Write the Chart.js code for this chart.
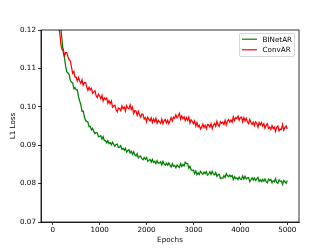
<!DOCTYPE html>
<html>
<head>
<meta charset="utf-8">
<script src="https://cdn.jsdelivr.net/npm/chart.js"></script>
<style>
  html, body { margin: 0; padding: 0; background: #fff; }
  #wrap { width: 332px; height: 249px; }
</style>
</head>
<body>
<div id="wrap"><canvas id="c" width="332" height="249"></canvas></div>
<script>
// epochs, sampled every 25
const epochs = [
  0, 25, 50, 75, 100, 125, 150, 175, 200, 225,
  250, 275, 300, 325, 350, 375, 400, 425, 450, 475,
  500, 525, 550, 575, 600, 625, 650, 675, 700, 725,
  750, 775, 800, 825, 850, 875, 900, 925, 950, 975,
  1000, 1025, 1050, 1075, 1100, 1125, 1150, 1175, 1200, 1225,
  1250, 1275, 1300, 1325, 1350, 1375, 1400, 1425, 1450, 1475,
  1500, 1525, 1550, 1575, 1600, 1625, 1650, 1675, 1700, 1725,
  1750, 1775, 1800, 1825, 1850, 1875, 1900, 1925, 1950, 1975,
  2000, 2025, 2050, 2075, 2100, 2125, 2150, 2175, 2200, 2225,
  2250, 2275, 2300, 2325, 2350, 2375, 2400, 2425, 2450, 2475,
  2500, 2525, 2550, 2575, 2600, 2625, 2650, 2675, 2700, 2725,
  2750, 2775, 2800, 2825, 2850, 2875, 2900, 2925, 2950, 2975,
  3000, 3025, 3050, 3075, 3100, 3125, 3150, 3175, 3200, 3225,
  3250, 3275, 3300, 3325, 3350, 3375, 3400, 3425, 3450, 3475,
  3500, 3525, 3550, 3575, 3600, 3625, 3650, 3675, 3700, 3725,
  3750, 3775, 3800, 3825, 3850, 3875, 3900, 3925, 3950, 3975,
  4000, 4025, 4050, 4075, 4100, 4125, 4150, 4175, 4200, 4225,
  4250, 4275, 4300, 4325, 4350, 4375, 4400, 4425, 4450, 4475,
  4500, 4525, 4550, 4575, 4600, 4625, 4650, 4675, 4700, 4725,
  4750, 4775, 4800, 4825, 4850, 4875, 4900, 4925, 4950, 4975,
  5000
];

const binetar = [
  0.1700, 0.1596, 0.1502, 0.1416, 0.1354, 0.1289, 0.1235, 0.1203, 0.1171, 0.1141,
  0.1128, 0.1106, 0.1091, 0.1088, 0.1084, 0.1069, 0.1064, 0.1062, 0.1047, 0.1050,
  0.1044, 0.1044, 0.1026, 0.1015, 0.1005, 0.0988, 0.0989, 0.0974, 0.0964, 0.0962,
  0.0960, 0.0948, 0.0949, 0.0940, 0.0944, 0.0936, 0.0930, 0.0933, 0.0932, 0.0922,
  0.0923, 0.0925, 0.0916, 0.0922, 0.0912, 0.0912, 0.0906, 0.0912, 0.0904, 0.0907,
  0.0901, 0.0908, 0.0902, 0.0897, 0.0902, 0.0903, 0.0894, 0.0895, 0.0899, 0.0889,
  0.0892, 0.0887, 0.0892, 0.0882, 0.0886, 0.0888, 0.0880, 0.0884, 0.0876, 0.0883,
  0.0875, 0.0872, 0.0878, 0.0867, 0.0871, 0.0872, 0.0865, 0.0862, 0.0868, 0.0863,
  0.0868, 0.0858, 0.0861, 0.0863, 0.0856, 0.0863, 0.0855, 0.0858, 0.0852, 0.0860,
  0.0853, 0.0854, 0.0857, 0.0849, 0.0858, 0.0851, 0.0848, 0.0853, 0.0848, 0.0854,
  0.0848, 0.0843, 0.0852, 0.0845, 0.0847, 0.0841, 0.0848, 0.0845, 0.0842, 0.0852,
  0.0845, 0.0850, 0.0846, 0.0856, 0.0852, 0.0852, 0.0840, 0.0845, 0.0836, 0.0834,
  0.0835, 0.0826, 0.0833, 0.0823, 0.0828, 0.0824, 0.0832, 0.0828, 0.0824, 0.0830,
  0.0826, 0.0831, 0.0822, 0.0825, 0.0831, 0.0824, 0.0832, 0.0825, 0.0823, 0.0829,
  0.0819, 0.0823, 0.0824, 0.0813, 0.0815, 0.0814, 0.0821, 0.0816, 0.0826, 0.0821,
  0.0818, 0.0822, 0.0818, 0.0821, 0.0811, 0.0818, 0.0813, 0.0815, 0.0810, 0.0817,
  0.0812, 0.0811, 0.0820, 0.0812, 0.0819, 0.0812, 0.0815, 0.0816, 0.0805, 0.0810,
  0.0815, 0.0809, 0.0815, 0.0808, 0.0812, 0.0816, 0.0806, 0.0810, 0.0805, 0.0811,
  0.0806, 0.0812, 0.0805, 0.0802, 0.0812, 0.0808, 0.0811, 0.0802, 0.0807, 0.0805,
  0.0813, 0.0803, 0.0801, 0.0810, 0.0806, 0.0807, 0.0798, 0.0808, 0.0805, 0.0801,
  0.0808
];

const convar = [
  0.1500, 0.1425, 0.1347, 0.1296, 0.1234, 0.1212, 0.1192, 0.1161, 0.1149, 0.1150,
  0.1133, 0.1141, 0.1141, 0.1130, 0.1123, 0.1119, 0.1103, 0.1087, 0.1092, 0.1077,
  0.1077, 0.1067, 0.1076, 0.1067, 0.1061, 0.1070, 0.1056, 0.1063, 0.1063, 0.1052,
  0.1043, 0.1051, 0.1044, 0.1048, 0.1035, 0.1039, 0.1042, 0.1029, 0.1024, 0.1033,
  0.1028, 0.1021, 0.1030, 0.1015, 0.1023, 0.1019, 0.1023, 0.1009, 0.1016, 0.1008,
  0.1015, 0.0999, 0.1002, 0.1004, 0.0993, 0.0987, 0.0997, 0.0995, 0.0990, 0.1002,
  0.0995, 0.0999, 0.0989, 0.1003, 0.0997, 0.0995, 0.1005, 0.0993, 0.0999, 0.0983,
  0.0990, 0.0989, 0.0978, 0.0988, 0.0979, 0.0973, 0.0981, 0.0980, 0.0968, 0.0972,
  0.0961, 0.0973, 0.0967, 0.0963, 0.0971, 0.0959, 0.0968, 0.0961, 0.0970, 0.0957,
  0.0965, 0.0961, 0.0957, 0.0968, 0.0956, 0.0964, 0.0967, 0.0958, 0.0965, 0.0956,
  0.0964, 0.0972, 0.0963, 0.0973, 0.0970, 0.0979, 0.0971, 0.0976, 0.0983, 0.0968,
  0.0976, 0.0969, 0.0974, 0.0964, 0.0972, 0.0965, 0.0973, 0.0958, 0.0966, 0.0962,
  0.0956, 0.0963, 0.0950, 0.0959, 0.0948, 0.0952, 0.0942, 0.0947, 0.0955, 0.0946,
  0.0952, 0.0943, 0.0954, 0.0953, 0.0947, 0.0956, 0.0943, 0.0952, 0.0957, 0.0949,
  0.0962, 0.0953, 0.0949, 0.0961, 0.0957, 0.0960, 0.0954, 0.0965, 0.0953, 0.0963,
  0.0967, 0.0960, 0.0966, 0.0960, 0.0974, 0.0964, 0.0972, 0.0969, 0.0976, 0.0965,
  0.0972, 0.0973, 0.0961, 0.0972, 0.0963, 0.0970, 0.0961, 0.0956, 0.0967, 0.0960,
  0.0954, 0.0960, 0.0951, 0.0961, 0.0957, 0.0947, 0.0959, 0.0953, 0.0959, 0.0950,
  0.0956, 0.0944, 0.0952, 0.0956, 0.0944, 0.0947, 0.0941, 0.0951, 0.0943, 0.0947,
  0.0936, 0.0947, 0.0950, 0.0937, 0.0942, 0.0941, 0.0954, 0.0939, 0.0946, 0.0950,
  0.0942
];

const xTicks = [0, 1000, 2000, 3000, 4000, 5000];
const yTicks = [0.07, 0.08, 0.09, 0.10, 0.11, 0.12];

const FONT = { family: 'DejaVu Sans', size: 7.2 };

function toPoints(ys) {
  return epochs.map((e, i) => ({ x: e, y: ys[i] }));
}

// frame on all four sides + legend box in the upper right
const framePlugin = {
  id: 'frame',
  afterDraw(chart) {
    const { ctx, chartArea: a } = chart;
    ctx.save();
    ctx.strokeStyle = '#000';
    ctx.lineWidth = 0.8;
    ctx.strokeRect(a.left, a.top, a.right - a.left, a.bottom - a.top);

    // legend
    const bx = 239.5, by = 33.5, bw = 55, bh = 23;
    ctx.fillStyle = 'rgba(255,255,255,0.8)';
    ctx.strokeStyle = '#cccccc';
    ctx.lineWidth = 0.8;
    ctx.beginPath();
    ctx.roundRect(bx, by, bw, bh, 1.5);
    ctx.fill();
    ctx.stroke();
    ctx.font = FONT.size + 'px ' + FONT.family;
    ctx.textBaseline = 'middle';
    chart.data.datasets.forEach((ds, i) => {
      const y = by + 5.7 + i * 10.6;
      ctx.strokeStyle = ds.borderColor;
      ctx.lineWidth = 1.2;
      ctx.beginPath();
      ctx.moveTo(bx + 2.5, y);
      ctx.lineTo(bx + 17.5, y);
      ctx.stroke();
      ctx.fillStyle = '#000';
      ctx.fillText(ds.label, bx + 23, y + 0.5);
    });
    ctx.restore();
  }
};

new Chart(document.getElementById('c'), {
  type: 'line',
  data: {
    datasets: [
      { label: 'BINetAR', data: toPoints(binetar), borderColor: '#008000', borderWidth: 1.25, pointRadius: 0, tension: 0, order: 1 },
      { label: 'ConvAR', data: toPoints(convar), borderColor: '#ff0000', borderWidth: 1.25, pointRadius: 0, tension: 0, order: 0 }
    ]
  },
  options: {
    responsive: false,
    animation: false,
    devicePixelRatio: 1,
    layout: { padding: { left: 0, top: 30, right: 33, bottom: 0 } },
    plugins: { legend: { display: false }, tooltip: { enabled: false } },
    scales: {
      x: {
        type: 'linear',
        min: -250,
        max: 5250,
        afterBuildTicks: s => { s.ticks = xTicks.map(v => ({ value: v })); },
        afterFit: s => { s.height = 27; },
        grid: { drawOnChartArea: false, drawTicks: true, tickLength: 3, color: '#000', lineWidth: 0.8 },
        border: { display: true, color: '#000', width: 0.8 },
        ticks: { font: FONT, color: '#000', padding: 1, maxRotation: 0, callback: v => String(v) },
        title: { display: true, text: 'Epochs', font: FONT, color: '#000', padding: { top: 0, bottom: 4.5 } }
      },
      y: {
        min: 0.07,
        max: 0.12,
        afterBuildTicks: s => { s.ticks = yTicks.map(v => ({ value: v })); },
        afterFit: s => { s.width = 41; },
        grid: { drawOnChartArea: false, drawTicks: true, tickLength: 3, color: '#000', lineWidth: 0.8 },
        border: { display: true, color: '#000', width: 0.8 },
        ticks: { font: FONT, color: '#000', padding: 2, callback: v => v.toFixed(2) },
        title: { display: true, text: 'L1 Loss', font: FONT, color: '#000', padding: { top: 8.5, bottom: 0 } }
      }
    }
  },
  plugins: [framePlugin]
});
</script>
</body>
</html>
